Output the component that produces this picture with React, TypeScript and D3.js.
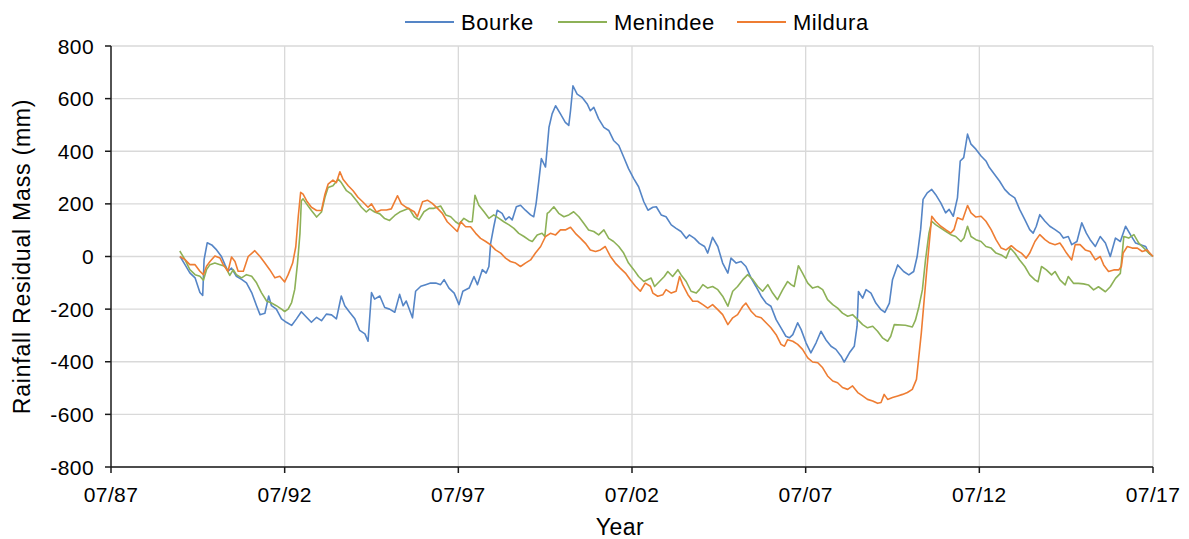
import React from "react";
import * as d3 from "d3";

// ---- Data (decimal year, residual mass in mm) ----
const bourkeYears = [1989.49,1989.63,1989.77,1989.92,1990.06,1990.14,1990.18,1990.27,1990.40,1990.54,1990.68,1990.78,1990.87,1990.97,1991.11,1991.26,1991.40,1991.55,1991.69,1991.79,1991.93,1992.04,1992.12,1992.26,1992.41,1992.55,1992.70,1992.84,1992.98,1993.13,1993.27,1993.42,1993.56,1993.70,1993.85,1993.99,1994.13,1994.23,1994.37,1994.52,1994.66,1994.81,1994.90,1995.00,1995.09,1995.24,1995.38,1995.52,1995.67,1995.81,1995.91,1996.00,
1996.18,1996.27,1996.42,1996.56,1996.70,1996.85,1996.99,1997.09,1997.23,1997.38,1997.52,1997.63,1997.81,1997.95,1998.05,1998.19,1998.30,1998.38,1998.43,1998.52,1998.62,1998.76,1998.86,1998.96,1999.05,1999.17,1999.29,1999.43,1999.58,1999.67,1999.74,1999.82,1999.89,2000.01,2000.11,2000.20,2000.30,2000.44,2000.58,2000.68,2000.73,2000.80,2000.92,2001.06,2001.21,2001.30,2001.40,2001.54,2001.69,2001.83,2001.97,2002.12,2002.26,2002.40,2002.55,2002.69,2002.84,2002.96,
2003.10,2003.20,2003.34,2003.48,2003.63,2003.77,2003.91,2004.06,2004.15,2004.30,2004.44,2004.59,2004.68,2004.82,2004.97,2005.11,2005.26,2005.35,2005.50,2005.64,2005.78,2005.93,2006.07,2006.22,2006.36,2006.50,2006.65,2006.79,2006.93,2007.03,2007.13,2007.27,2007.37,2007.51,2007.65,2007.80,2007.94,2008.08,2008.23,2008.37,2008.52,2008.61,2008.76,2008.90,2008.98,2009.02,2009.14,2009.24,2009.38,2009.52,2009.67,2009.78,2009.91,2010.00,2010.15,
2010.32,2010.47,2010.61,2010.71,2010.81,2010.88,2011.00,2011.13,2011.24,2011.39,2011.53,2011.63,2011.75,2011.87,2011.95,2012.05,2012.16,2012.26,2012.40,2012.55,2012.69,2012.79,2012.94,2013.08,2013.23,2013.37,2013.52,2013.66,2013.81,2013.95,2014.05,2014.14,2014.24,2014.39,2014.53,2014.68,2014.82,2014.92,2015.06,2015.16,2015.31,2015.45,2015.58,2015.69,2015.84,2015.98,2016.13,2016.27,2016.42,2016.56,2016.71,2016.85,2017.00,2017.14,2017.29,2017.38,2017.50];
const bourkeValues = [0,-31,-62,-81,-137,-148,-12,52,44,25,0,-31,-56,-44,-75,-87,-100,-137,-187,-221,-216,-150,-187,-200,-237,-250,-262,-237,-210,-231,-250,-231,-244,-219,-222,-237,-150,-187,-212,-237,-281,-294,-322,-137,-162,-150,-194,-200,-212,-144,-187,-169,
-233,-132,-113,-107,-101,-101,-107,-88,-120,-139,-183,-132,-120,-76,-107,-50,-63,-38,50,113,176,164,139,151,139,189,195,176,158,151,202,290,372,340,491,542,573,542,510,498,554,649,617,605,580,554,567,523,491,479,441,422,378,334,296,265,208,176,
187,189,158,151,120,107,95,69,82,69,50,38,13,73,38,-25,-63,-6,-25,-19,-38,-82,-114,-151,-177,-189,-240,-271,-303,-309,-297,-252,-278,-328,-366,-328,-284,-316,-341,-353,-379,-401,-366,-341,-265,-133,-158,-126,-139,-177,-202,-212,-177,-88,-32,
-57,-70,-57,0,102,217,242,255,236,204,166,179,153,223,363,376,465,427,408,382,363,338,312,287,255,236,223,179,140,102,89,115,159,134,115,102,89,70,76,45,57,128,89,64,38,76,51,0,70,57,115,83,51,45,38,13,0];

const menindeeYears = [1989.48,1989.63,1989.77,1989.92,1990.06,1990.16,1990.25,1990.35,1990.49,1990.64,1990.78,1990.92,1991.02,1991.11,1991.26,1991.40,1991.55,1991.69,1991.83,1991.98,1992.12,1992.26,1992.41,1992.50,1992.60,1992.70,1992.79,1992.87,1992.94,1992.98,1993.03,1993.13,1993.27,1993.42,1993.56,1993.66,1993.75,1993.89,1994.04,1994.13,1994.28,1994.42,1994.57,1994.71,1994.85,1994.95,1995.09,1995.24,1995.38,1995.52,1995.67,1995.81,
1996.08,1996.23,1996.37,1996.51,1996.66,1996.80,1996.99,1997.14,1997.28,1997.42,1997.52,1997.66,1997.81,1997.90,1997.98,1998.09,1998.24,1998.38,1998.52,1998.67,1998.81,1998.96,1999.10,1999.24,1999.39,1999.53,1999.63,1999.77,1999.91,1999.99,2000.06,2000.12,2000.25,2000.39,2000.54,2000.68,2000.82,2000.97,2001.11,2001.25,2001.40,2001.54,2001.69,2001.83,2001.97,2002.12,2002.26,2002.40,2002.55,2002.69,2002.84,
2003.05,2003.15,2003.29,2003.43,2003.53,2003.67,2003.82,2003.91,2004.06,2004.20,2004.35,2004.44,2004.54,2004.68,2004.82,2004.97,2005.11,2005.26,2005.40,2005.54,2005.69,2005.83,2005.98,2006.12,2006.26,2006.41,2006.55,2006.69,2006.84,2006.98,2007.08,2007.17,2007.29,2007.41,2007.56,2007.70,2007.85,2007.99,2008.13,2008.28,2008.42,2008.56,2008.71,2008.85,2009.00,2009.14,2009.28,2009.43,2009.57,2009.71,2009.86,2009.95,2010.05,
2010.37,2010.57,2010.66,2010.76,2010.86,2010.95,2011.05,2011.13,2011.24,2011.39,2011.53,2011.68,2011.82,2011.97,2012.06,2012.16,2012.26,2012.40,2012.55,2012.69,2012.84,2012.98,2013.13,2013.27,2013.39,2013.52,2013.66,2013.81,2013.95,2014.10,2014.19,2014.29,2014.43,2014.58,2014.68,2014.82,2014.97,2015.06,2015.21,2015.35,2015.50,2015.64,2015.79,2015.93,2016.13,2016.27,2016.42,2016.56,2016.66,2016.80,2016.95,2017.09,2017.24,2017.38,2017.50];
const menindeeValues = [21,-12,-50,-69,-75,-90,-50,-31,-25,-31,-37,-72,-50,-69,-81,-69,-75,-100,-137,-169,-177,-187,-200,-209,-200,-175,-125,-25,87,212,219,200,175,150,169,225,262,269,294,281,250,237,212,187,169,181,169,162,144,137,156,169,
183,151,139,170,183,183,192,158,151,132,123,145,132,132,233,195,170,145,158,145,132,120,107,88,76,63,57,82,88,76,164,170,189,164,151,158,170,151,126,101,95,82,101,69,57,38,13,-25,-50,-76,-95,
-82,-114,-95,-76,-57,-76,-50,-69,-95,-132,-139,-126,-107,-120,-114,-126,-151,-189,-132,-114,-88,-69,-88,-114,-132,-107,-139,-164,-126,-95,-107,-114,-35,-63,-101,-120,-114,-126,-164,-183,-196,-215,-227,-221,-240,-259,-271,-265,-284,-309,-322,-303,-259,
-261,-268,-242,-191,-127,-13,89,134,121,108,96,83,76,57,70,115,76,64,57,38,32,13,6,-6,32,13,-13,-38,-70,-89,-96,-38,-51,-70,-57,-89,-108,-76,-102,-102,-104,-108,-127,-115,-134,-115,-83,-64,76,70,83,51,32,13,0];

const milduraYears = [1989.48,1989.63,1989.77,1989.92,1990.06,1990.16,1990.25,1990.35,1990.49,1990.64,1990.73,1990.87,1990.97,1991.07,1991.16,1991.31,1991.45,1991.64,1991.79,1991.93,1992.07,1992.22,1992.36,1992.50,1992.60,1992.73,1992.82,1992.89,1992.96,1993.03,1993.13,1993.27,1993.42,1993.56,1993.66,1993.75,1993.89,1993.99,1994.09,1994.18,1994.33,1994.47,1994.61,1994.76,1994.90,1995.00,1995.14,1995.28,1995.43,1995.57,1995.75,1995.86,1996.00,
1996.23,1996.32,1996.47,1996.61,1996.75,1996.90,1997.04,1997.18,1997.33,1997.47,1997.57,1997.71,1997.85,1998.00,1998.14,1998.29,1998.43,1998.57,1998.72,1998.86,1999.00,1999.15,1999.29,1999.43,1999.58,1999.72,1999.87,2000.01,2000.15,2000.30,2000.44,2000.58,2000.73,2000.87,2001.02,2001.16,2001.30,2001.45,2001.59,2001.73,2001.88,2002.02,2002.16,2002.31,2002.45,2002.60,2002.74,2002.88,2003.03,
2003.10,2003.24,2003.39,2003.48,2003.63,2003.77,2003.87,2003.96,2004.11,2004.25,2004.39,2004.54,2004.68,2004.82,2004.97,2005.11,2005.26,2005.40,2005.54,2005.69,2005.78,2005.93,2006.07,2006.22,2006.36,2006.50,2006.65,2006.79,2006.89,2006.98,2007.13,2007.27,2007.41,2007.56,2007.70,2007.85,2007.99,2008.13,2008.28,2008.42,2008.56,2008.71,2008.85,2009.00,2009.14,2009.28,2009.43,2009.57,2009.67,2009.76,2009.86,2010.00,2010.15,2010.29,2010.43,
2010.57,2010.69,2010.83,2010.98,
2011.13,2011.24,2011.39,2011.53,2011.68,2011.77,2011.87,2012.02,2012.16,2012.26,2012.40,2012.55,2012.69,2012.84,2012.98,2013.13,2013.27,2013.42,2013.56,2013.71,2013.85,2013.95,2014.10,2014.24,2014.39,2014.53,2014.68,2014.82,2014.92,2015.01,2015.16,2015.26,2015.40,2015.55,2015.69,2015.84,2015.98,2016.08,2016.22,2016.37,2016.51,2016.59,2016.64,2016.76,2016.90,2017.05,2017.19,2017.33,2017.50];
const milduraValues = [0,-12,-31,-31,-56,-69,-37,-19,2,-6,-31,-56,-2,-19,-56,-56,0,22,0,-25,-50,-81,-75,-97,-69,-25,37,150,244,237,212,187,175,175,237,275,290,281,322,294,269,250,225,206,187,200,169,177,177,181,231,200,187,
170,151,208,214,202,183,164,132,113,95,132,113,113,88,69,57,44,25,13,-6,-19,-25,-38,-25,-13,13,38,76,88,82,101,101,111,88,69,50,25,19,25,38,0,-25,-44,-63,-88,-113,-132,-101,-113,
-139,-151,-145,-126,-139,-132,-76,-107,-145,-170,-170,-183,-196,-183,-202,-221,-259,-233,-221,-189,-177,-208,-227,-233,-252,-271,-297,-334,-341,-316,-322,-334,-353,-385,-401,-404,-423,-454,-473,-480,-498,-505,-492,-517,-530,-543,-549,-558,-555,-524,-543,-536,-530,-524,-517,
-505,-467,-290,-61,
153,134,115,102,89,102,147,140,194,166,150,153,134,102,64,32,25,41,25,13,-6,13,57,83,64,51,45,51,32,13,-13,45,45,25,19,-13,0,-32,-57,-51,-51,-38,13,38,32,32,19,25,0];

const seriesNames = ["Bourke", "Menindee", "Mildura"];
const seriesColors = ["#5585C6", "#8DB157", "#EE7D33"];

const xTickYears = [1987.5, 1992.5, 1997.5, 2002.5, 2007.5, 2012.5, 2017.5];
const xTickLabels = ["07/87", "07/92", "07/97", "07/02", "07/07", "07/12", "07/17"];
const yTicks = [-800, -600, -400, -200, 0, 200, 400, 600, 800];

const W = 1189, H = 539;
const M = { left: 111, right: 1153, top: 46, bottom: 467 };
const FONT = "'Liberation Sans', Arial, sans-serif";
const FS = 21;

export default function App() {
  const x = d3.scaleLinear().domain([1987.5, 2017.5]).range([M.left, M.right]);
  const y = d3.scaleLinear().domain([-800, 800]).range([M.bottom, M.top]);
  const line = d3.line<[number, number]>().x(d => x(d[0])).y(d => y(d[1]));
  const series = [
    d3.zip(bourkeYears, bourkeValues) as [number, number][],
    d3.zip(menindeeYears, menindeeValues) as [number, number][],
    d3.zip(milduraYears, milduraValues) as [number, number][],
  ];
  const legendX = [405, 558, 737];

  return (
    <svg width={W} height={H} style={{ position: "absolute", left: 0, top: 0, background: "#fff" }} fontFamily={FONT}>
      <rect x={0} y={0} width={W} height={H} fill="#fff" />
      {/* gridlines */}
      {yTicks.map(t => (
        <line key={"gy" + t} x1={M.left} x2={M.right} y1={y(t)} y2={y(t)} stroke="#d9d9d9" strokeWidth={1.3} />
      ))}
      {xTickYears.slice(1).map(t => (
        <line key={"gx" + t} x1={x(t)} x2={x(t)} y1={M.top} y2={M.bottom} stroke="#d9d9d9" strokeWidth={1.3} />
      ))}
      {/* series */}
      {series.map((s, i) => (
        <path key={seriesNames[i]} d={line(s) || ""} fill="none" stroke={seriesColors[i]} strokeWidth={1.6} strokeLinejoin="round" />
      ))}
      {/* axes */}
      <line x1={M.left} x2={M.left} y1={M.top} y2={M.bottom} stroke="#1a1a1a" strokeWidth={1.5} />
      <line x1={M.left} x2={M.right} y1={M.bottom} y2={M.bottom} stroke="#1a1a1a" strokeWidth={1.5} />
      {yTicks.map(t => (
        <g key={"yt" + t}>
          <line x1={M.left - 6} x2={M.left} y1={y(t)} y2={y(t)} stroke="#1a1a1a" strokeWidth={1.5} />
          <text x={M.left - 17} y={y(t)} textAnchor="end" dominantBaseline="central" fontSize={FS} letterSpacing={0.4} fill="#000">{t}</text>
        </g>
      ))}
      {xTickYears.map((t, i) => (
        <g key={"xt" + t}>
          <line x1={x(t)} x2={x(t)} y1={M.bottom} y2={M.bottom + 6} stroke="#1a1a1a" strokeWidth={1.5} />
          <text x={x(t)} y={494} textAnchor="middle" dominantBaseline="central" fontSize={FS} letterSpacing={0.4} fill="#000">{xTickLabels[i]}</text>
        </g>
      ))}
      {/* axis titles */}
      <text x={620} y={527} textAnchor="middle" dominantBaseline="central" fontSize={FS + 2} letterSpacing={0.5} fill="#000">Year</text>
      <text transform={`translate(22,${y(0)}) rotate(-90)`} textAnchor="middle" dominantBaseline="central" fontSize={FS + 2} letterSpacing={0.8} fill="#000">Rainfall Residual Mass (mm)</text>
      {/* legend */}
      {seriesNames.map((n, i) => (
        <g key={"lg" + n}>
          <line x1={legendX[i]} x2={legendX[i] + 49} y1={22} y2={22} stroke={seriesColors[i]} strokeWidth={1.8} />
          <text x={legendX[i] + 56} y={22} dominantBaseline="central" fontSize={FS + 1} letterSpacing={0.5} fill="#000">{n}</text>
        </g>
      ))}
    </svg>
  );
}
